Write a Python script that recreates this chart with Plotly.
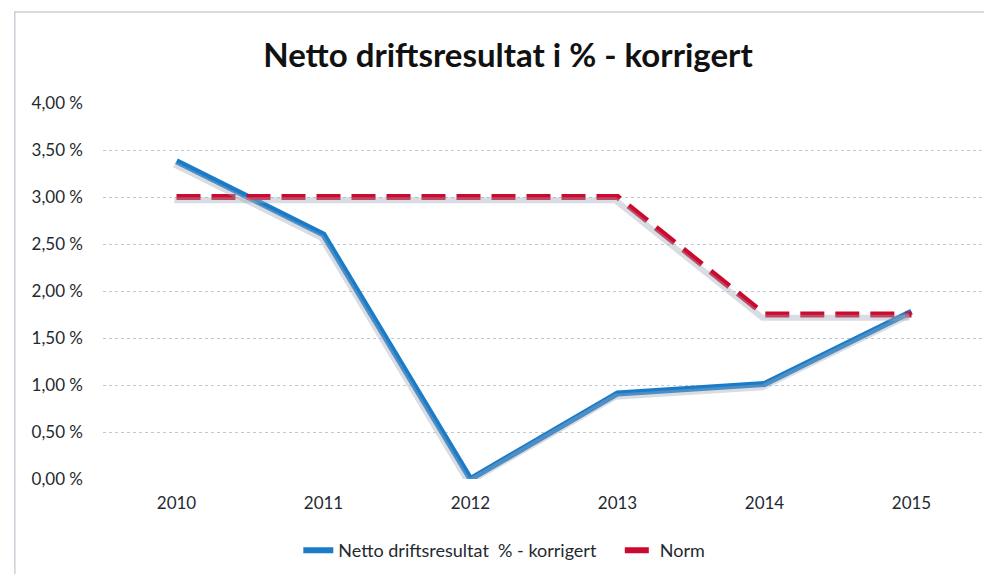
import plotly.graph_objects as go

years = ["2010", "2011", "2012", "2013", "2014", "2015"]
netto = [3.38, 2.60, 0.00, 0.91, 1.01, 1.78]
norm = [3.00, 3.00, 3.00, 3.00, 1.75, 1.75]
tick_vals = [0, 0.5, 1, 1.5, 2, 2.5, 3, 3.5, 4]
tick_text = ["0,00 %", "0,50 %", "1,00 %", "1,50 %", "2,00 %", "2,50 %", "3,00 %", "3,50 %", "4,00 %"]

fig = go.Figure()
# soft shadows (drawn on a slightly offset overlay axis)
for vals in (netto, norm):
    fig.add_trace(go.Scatter(
        x=years, y=vals, mode="lines", xaxis="x2", yaxis="y2",
        line=dict(color="rgba(160,170,185,0.4)", width=6),
        showlegend=False, hoverinfo="skip",
    ))
fig.add_trace(go.Scatter(
    x=years, y=netto, mode="lines",
    name="Netto driftsresultat  % - korrigert\u00a0\u00a0\u00a0\u00a0",
    line=dict(color="#1a7cc9", width=6),
))
fig.add_trace(go.Scatter(
    x=years, y=norm, mode="lines",
    name="Norm",
    line=dict(color="#cc0a30", width=6, dash="24px,11px"),
))

fig.update_layout(
    width=992, height=574,
    paper_bgcolor="white", plot_bgcolor="white",
    margin=dict(l=95, r=15, t=95, b=103),
    font=dict(family="Lato, Open Sans, sans-serif", color="#1f2a30"),
    title=dict(
        text="<b>Netto driftsresultat i % - korrigert</b>",
        x=0.504, xanchor="center", y=0.918, yanchor="middle",
        font=dict(size=33, color="#111111"),
    ),
    xaxis=dict(
        type="category", range=[-0.5, 5.5],
        showgrid=False, showline=False, ticks="",
        tickfont=dict(size=17, color="#1f2a30"),
        ticklabelstandoff=12,
    ),
    yaxis=dict(
        range=[0, 4], tickmode="array", tickvals=tick_vals, ticktext=tick_text,
        showgrid=True, gridcolor="#bfc9d6", griddash="dot", gridwidth=1,
        zeroline=False, showline=False, ticks="",
        tickfont=dict(size=17, color="#1f2a30"),
        ticklabelstandoff=19,
    ),
    xaxis2=dict(
        type="category", range=[-0.5 + 0.014, 5.5 + 0.014],
        overlaying="x", visible=False,
    ),
    yaxis2=dict(
        range=[0.035, 4.035], overlaying="y", visible=False,
    ),
    legend=dict(
        orientation="h", x=0.455, xanchor="center", y=-0.19, yanchor="middle",
        font=dict(size=18, color="#1f2a30"),
    ),
    showlegend=True,
)

fig.add_shape(type="line", xref="paper", yref="paper",
              x0=-0.1, x1=-0.1, y0=-0.4, y1=1.245,
              line=dict(color="#c9d0d8", width=1.5))
fig.add_shape(type="line", xref="paper", yref="paper",
              x0=-0.1, x1=1.02, y0=1.242, y1=1.242,
              line=dict(color="#c9d0d8", width=1.5))

fig.write_html("out.html")
